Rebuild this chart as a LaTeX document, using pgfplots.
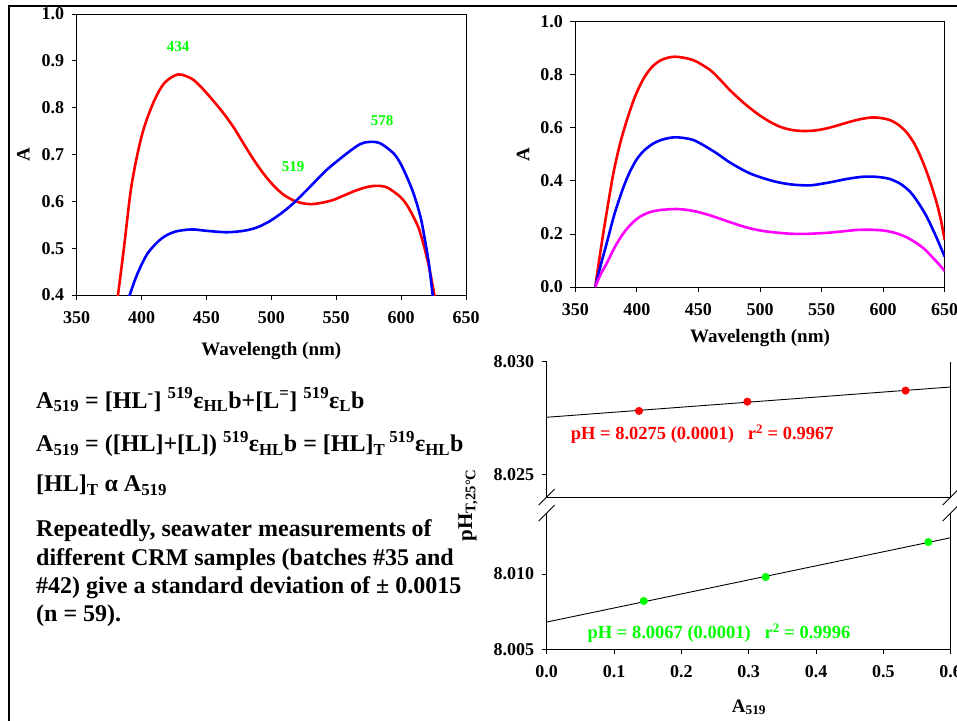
\documentclass[border=0pt]{standalone}
\usepackage{pgfplots}
\pgfplotsset{compat=1.18}
\usepackage{fontspec}
\setmainfont{Liberation Serif}
\definecolor{cred}{RGB}{255,0,0}
\definecolor{cblue}{RGB}{0,0,255}
\definecolor{cmag}{RGB}{255,0,255}
\definecolor{cgreen}{RGB}{0,255,0}
\pgfplotsset{
  myaxis/.style={
    scale only axis,
    tick align=outside,
    tick pos=left,
    major tick length=5pt,
    tick style={black, line width=0.8pt},
    axis line style={line width=0.8pt,-},
    every outer x axis line/.append style={-},
    every outer y axis line/.append style={-},
    /pgf/number format/assume math mode=true,
    scaled ticks=false,
    ticklabel style={font=\fontsize{18}{20}\selectfont\bfseries},
    label style={font=\fontsize{19}{22}\selectfont\bfseries},
    yticklabel style={xshift=-4pt},
    xticklabel style={yshift=-8pt},
  },
  wl/.style={line width=2.6pt, smooth},
}
\begin{document}
\begin{tikzpicture}
\useasboundingbox (0pt,0pt) rectangle (957pt,-720pt);
% frame
\draw[line width=2.4pt, black, line join=miter] (8.7pt,-740pt) -- (8.7pt,-6pt) -- (980pt,-6pt);

% ---------- chart 1 ----------
\begin{axis}[myaxis, at={(76.7pt,-295pt)}, anchor=south west,
  width=389.3pt, height=281pt,
  xmin=350, xmax=650, ymin=0.4, ymax=1.0,
  xtick={350,400,450,500,550,600,650},
  ytick={0.4,0.5,0.6,0.7,0.8,0.9,1.0},
  yticklabel style={/pgf/number format/fixed,/pgf/number format/fixed zerofill,/pgf/number format/precision=1},
  xlabel={Wavelength (nm)}, ylabel={A},
  xlabel style={at={(axis description cs:0.5,-0.217)}, anchor=base},
  ylabel style={at={(axis description cs:-0.137,0.5)}, anchor=center},
]
\addplot[wl, cred] coordinates {
(379,0.35) (381.8,0.4) (386.5,0.503) (391.7,0.624) (396.9,0.702) (402.1,0.759)
(409.9,0.816) (417.7,0.853) (428.1,0.871) (438.5,0.862) (445.5,0.845) (452.7,0.823) (462,0.792)
(470.7,0.759) (478,0.726) (486.1,0.690) (494,0.659) (501.6,0.634) (509,0.615)
(517,0.602) (524,0.596) (531,0.594) (539,0.597) (547.8,0.603) (555.5,0.612)
(563.2,0.621) (571.5,0.629) (579.9,0.633) (588.9,0.630) (599.2,0.610) (604.5,0.592)
(609.5,0.567) (613.5,0.543) (617.1,0.510) (621.5,0.46) (625.6,0.4) (627,0.37)};
\addplot[wl, cblue] coordinates {
(388.5,0.37) (390.9,0.4) (396.9,0.446) (404.7,0.489) (415.1,0.520) (425.5,0.535)
(438.5,0.540) (450.2,0.537) (465.6,0.534) (478.4,0.537) (488.7,0.544) (499,0.558)
(509.3,0.578) (518.2,0.599) (529.8,0.631) (542.6,0.667) (558,0.702) (568.3,0.722)
(575.5,0.727) (583.8,0.724) (594,0.703) (599.5,0.681) (604.3,0.653) (608.5,0.625)
(612,0.596) (615.5,0.56) (618.4,0.517) (621.5,0.465) (624.3,0.4) (625.5,0.37)};
\node[text=cgreen, font=\fontsize{15}{18}\selectfont\bfseries] at (axis cs:428.1,0.9295) {434};
\node[text=cgreen, font=\fontsize{15}{18}\selectfont\bfseries] at (axis cs:516.7,0.675) {519};
\node[text=cgreen, font=\fontsize{15}{18}\selectfont\bfseries] at (axis cs:585.3,0.7715) {578};
\end{axis}

% ---------- chart 2 ----------
\begin{axis}[myaxis, at={(575.3pt,-287pt)}, anchor=south west,
  width=369.4pt, height=265.3pt,
  xmin=350, xmax=650, ymin=0, ymax=1.0,
  xtick={350,400,450,500,550,600,650},
  ytick={0,0.2,0.4,0.6,0.8,1.0},
  yticklabel style={/pgf/number format/fixed,/pgf/number format/fixed zerofill,/pgf/number format/precision=1},
  xlabel={Wavelength (nm)}, ylabel={A},
  xlabel style={at={(axis description cs:0.5,-0.211)}, anchor=base},
  ylabel style={at={(axis description cs:-0.141,0.5)}, anchor=center},
]
\addplot[wl, cred] coordinates {
(366.2,0) (369.5,0.105) (372.7,0.202) (376.8,0.318) (380.9,0.428) (385,0.515)
(389,0.585) (393.5,0.652) (398.5,0.718) (405,0.782) (412,0.828) (420,0.856)
(431,0.868) (445.9,0.855) (459.4,0.818) (467.5,0.782) (475.6,0.742) (486.5,0.695)
(497.3,0.655) (506.8,0.626) (516.3,0.604) (525.8,0.592) (535.2,0.588) (544.7,0.590)
(554.2,0.598) (563.7,0.610) (573.2,0.623) (582,0.633) (590.7,0.639) (598,0.637)
(605.6,0.629) (612.5,0.611) (619.2,0.582) (626,0.535) (632.7,0.466) (638.5,0.392)
(643.6,0.315) (647,0.25) (650,0.177)};
\addplot[wl, cblue] coordinates {
(366.2,0) (370.5,0.08) (375.5,0.165) (382,0.278) (389,0.375) (394.5,0.436)
(400,0.482) (406,0.515) (413.4,0.541) (421,0.556) (429.6,0.564) (437.5,0.562)
(445.9,0.554) (455,0.532) (464.8,0.504) (474,0.474) (483.8,0.447) (493,0.426)
(502.8,0.410) (513.5,0.396) (524.4,0.387) (532.5,0.384) (540.7,0.383) (550,0.389)
(559.6,0.397) (569,0.406) (578.6,0.413) (585,0.416) (592.1,0.416) (599,0.413)
(605.6,0.407) (614,0.389) (621.9,0.359) (628.5,0.318) (635.4,0.265) (643,0.19) (650,0.114)};
\addplot[wl, cmag] coordinates {
(366.2,0) (370.5,0.047) (375.5,0.089) (382,0.15) (389,0.202) (395.5,0.238)
(402.5,0.265) (410.5,0.282) (418.8,0.290) (431,0.294) (440,0.291) (448.6,0.284)
(459.5,0.270) (470.2,0.253) (481,0.236) (491.9,0.221) (502.7,0.211) (513.5,0.205)
(524.4,0.201) (535.2,0.200) (546,0.202) (556.8,0.205) (567.7,0.210) (578.6,0.215)
(586.7,0.216) (594.8,0.215) (603,0.211) (611,0.202) (619.2,0.187) (627.3,0.165)
(634,0.141) (640.8,0.108) (645.5,0.085) (650,0.060)};
\end{axis}

% ---------- chart 3 upper ----------
\begin{axis}[myaxis, at={(546.7pt,-497pt)}, anchor=south west,
  width=404pt, height=135.3pt,
  xmin=0, xmax=0.6, ymin=8.02401, ymax=8.030,
  axis x line*=top, xtick=\empty,
  ytick={8.025,8.030},
  yticklabel style={/pgf/number format/fixed,/pgf/number format/fixed zerofill,/pgf/number format/precision=3},
]
\addplot[black, line width=0.9pt] coordinates {(0,8.02754) (0.6,8.02888)};
\addplot[only marks, mark=*, mark size=3.8pt, cred] coordinates {
(0.1371,8.02782) (0.298,8.02823) (0.533,8.02872)};
\node[anchor=base west, text=cred, font=\fontsize{18.5}{22}\selectfont\bfseries]
  at (axis cs:0.0306,8.026535) {pH = 8.0275 (0.0001)\hspace{0.75em}r\textsuperscript{2} = 0.9967};
\end{axis}

% ---------- chart 3 lower ----------
\begin{axis}[myaxis, at={(546.7pt,-649.3pt)}, anchor=south west,
  width=404pt, height=136.3pt,
  xmin=0, xmax=0.6, ymin=8.005, ymax=8.01405,
  axis x line*=bottom,
  xtick={0,0.1,0.2,0.3,0.4,0.5,0.6},
  ytick={8.005,8.010},
  xticklabel style={/pgf/number format/fixed,/pgf/number format/fixed zerofill,/pgf/number format/precision=1},
  yticklabel style={/pgf/number format/fixed,/pgf/number format/fixed zerofill,/pgf/number format/precision=3},
]
\addplot[black, line width=0.9pt] coordinates {(0,8.00681) (0.6,8.01241)};
\addplot[only marks, mark=*, mark size=3.8pt, cgreen] coordinates {
(0.1441,8.00821) (0.3252,8.00980) (0.5668,8.01212)};
\node[anchor=base west, text=cgreen, font=\fontsize{18.5}{22}\selectfont\bfseries]
  at (axis cs:0.0554,8.00573) {pH = 8.0067 (0.0001)\hspace{0.75em}r\textsuperscript{2} = 0.9996};
\end{axis}

% break marks
\foreach \xx in {546.7,950.7}{
  \draw[line width=0.8pt] (\xx pt-8pt,-497pt-8pt) -- (\xx pt+8pt,-497pt+8pt);
  \draw[line width=0.8pt] (\xx pt-8pt,-513pt-8pt) -- (\xx pt+8pt,-513pt+8pt);
}
% chart 3 axis labels
\node[rotate=90, anchor=center, font=\fontsize{21}{24}\selectfont\bfseries] at (468pt,-505pt) {pH\textsubscript{T,25°C}};
\node[anchor=base, font=\fontsize{19}{22}\selectfont\bfseries] at (749pt,-712pt) {A\textsubscript{519}};

% left text
\begin{scope}[every node/.style={anchor=base west, inner sep=0pt, font=\fontsize{24}{28.5}\selectfont\bfseries}]
\node at (36pt,-408pt) {A\textsubscript{519} = [HL\textsuperscript{-}] \textsuperscript{519}ε\textsubscript{HL}b+[L\textsuperscript{=}] \textsuperscript{519}ε\textsubscript{L}b};
\node at (36pt,-451.7pt) {A\textsubscript{519} = ([HL]+[L]) \textsuperscript{519}ε\textsubscript{HL}b = [HL]\textsubscript{T}\,\textsuperscript{519}ε\textsubscript{HL}b};
\node at (36pt,-491.7pt) {[HL]\textsubscript{T} α A\textsubscript{519}};
\node at (36pt,-536.7pt) {Repeatedly, seawater measurements of};
\node at (36pt,-565pt) {different CRM samples (batches \#35 and};
\node at (36pt,-593.3pt) {\#42) give a standard deviation of ± 0.0015};
\node at (36pt,-621.7pt) {(n = 59).};
\end{scope}
\end{tikzpicture}
\end{document}
